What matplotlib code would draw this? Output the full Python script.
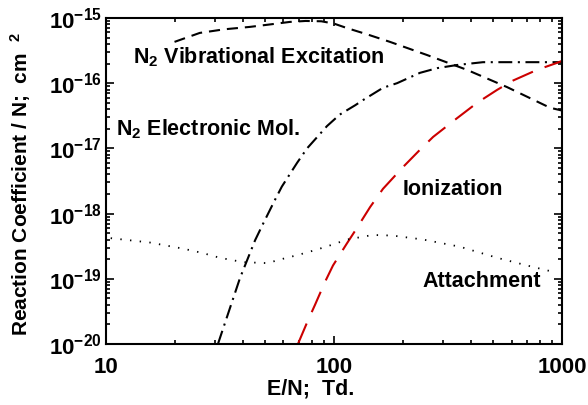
import numpy as np
import matplotlib
matplotlib.use('Agg')
import matplotlib.pyplot as plt
from matplotlib.ticker import LogLocator, NullFormatter

plt.rcParams['font.family'] = ['Liberation Sans', 'DejaVu Sans']
plt.rcParams['font.weight'] = 'bold'
plt.rcParams['mathtext.fontset'] = 'custom'
plt.rcParams['mathtext.rm'] = 'Liberation Sans:bold'
plt.rcParams['mathtext.it'] = 'Liberation Sans:bold'
plt.rcParams['mathtext.bf'] = 'Liberation Sans:bold'
plt.rcParams['mathtext.default'] = 'rm'
plt.rcParams['lines.scale_dashes'] = False

# values (E/N in Td, coefficient in cm^2)
vib_en = [20, 25.8, 33, 42.8, 53, 64, 75, 88, 100, 114, 140, 176, 256, 383, 574, 885, 1000]
vib_k = [4.3e-16, 5.9e-16, 6.7e-16, 7.3e-16, 8.0e-16, 8.7e-16, 9.0e-16, 8.9e-16, 8.2e-16,
         7.0e-16, 5.6e-16, 4.3e-16, 2.7e-16, 1.6e-16, 8.7e-17, 4.2e-17, 3.8e-17]

elec_en = [31, 38.7, 45.1, 48.9, 55.1, 59.1, 68.9, 76.2, 93.2, 106, 124, 134, 164, 189,
           238, 283, 346, 450, 600, 1000]
elec_k = [1.0e-20, 1.02e-19, 3.9e-19, 7.0e-19, 1.62e-18, 2.6e-18, 6.0e-18, 1.0e-17, 2.2e-17,
          3.3e-17, 4.6e-17, 5.5e-17, 8.5e-17, 1.0e-16, 1.44e-16, 1.7e-16, 1.9e-16, 2.1e-16,
          2.1e-16, 2.1e-16]

ion_en = [69.5, 76.9, 82.6, 91.4, 99, 114, 126, 144, 164, 201, 238, 272, 346, 424, 519,
          610, 776, 950, 1000]
ion_k = [1.0e-20, 2.3e-20, 4.0e-20, 9.0e-20, 1.6e-19, 3.5e-19, 6.0e-19, 1.26e-18, 2.4e-18,
         5.2e-18, 9.5e-18, 1.5e-17, 2.9e-17, 5.0e-17, 7.9e-17, 1.1e-16, 1.6e-16, 2.05e-16,
         2.2e-16]

att_en = [10.5, 15.6, 21.8, 26.4, 31.6, 40, 51, 62, 69, 84, 100, 114, 148, 181, 246, 357,
          519, 702, 930]
att_k = [4.2e-19, 3.6e-19, 2.9e-19, 2.5e-19, 2.1e-19, 1.8e-19, 1.74e-19, 2.1e-19, 2.3e-19,
         2.8e-19, 3.4e-19, 4.0e-19, 4.7e-19, 4.6e-19, 4.0e-19, 3.1e-19, 2.1e-19, 1.6e-19,
         1.26e-19]

fig = plt.figure(figsize=(5.88, 4.05), dpi=100)
ax = fig.add_axes([0.180, 0.1506, 0.776, 0.805])

ax.plot(vib_en, vib_k, color='black', lw=1.5, dashes=(8, 5))
ax.plot(elec_en, elec_k, color='black', lw=1.5, dashes=(10, 4, 1.5, 4))
ax.plot(ion_en, ion_k, color='#cc0000', lw=1.5, dashes=(16, 9))
ax.plot(att_en, att_k, color='black', lw=1.3, dashes=(1, 6))

ax.set_xscale('log')
ax.set_yscale('log')
ax.set_xlim(10, 1000)
ax.set_ylim(1e-20, 1e-15)

ax.set_xticks([10, 100, 1000])
ax.set_xticklabels(['10', '100', '1000'])
ax.set_yticks([1e-20, 1e-19, 1e-18, 1e-17, 1e-16, 1e-15])
ax.set_yticklabels([r'$10^{-20}$', r'$10^{-19}$', r'$10^{-18}$',
                    r'$10^{-17}$', r'$10^{-16}$', r'$10^{-15}$'])
ax.xaxis.set_minor_locator(LogLocator(base=10, subs=np.arange(2, 10), numticks=20))
ax.yaxis.set_minor_locator(LogLocator(base=10, subs=np.arange(2, 10), numticks=20))
ax.xaxis.set_minor_formatter(NullFormatter())
ax.yaxis.set_minor_formatter(NullFormatter())
ax.tick_params(which='both', direction='in', top=True, right=True, width=1.2)
ax.tick_params(which='major', length=6, labelsize=16)
ax.tick_params(axis='y', which='major', pad=3)
ax.tick_params(axis='x', which='major', pad=9)
ax.tick_params(which='minor', length=3)
for s in ax.spines.values():
    s.set_linewidth(1.5)

ax.set_xlabel('E/N;  Td.', fontsize=15.5, fontweight='bold')
ax.xaxis.set_label_coords(0.45, -0.107)
ax.set_ylabel(r'Reaction Coefficient / N;  cm  $^{2}$', fontsize=15, fontweight='bold')
ax.yaxis.set_label_coords(-0.16, 0.49)

ax.text(0.059, 0.862, r'N$_2$ Vibrational Excitation', transform=ax.transAxes, fontsize=15.5, va='baseline')
ax.text(0.022, 0.641, r'N$_2$ Electronic Mol.', transform=ax.transAxes, fontsize=15.5, va='baseline')
ax.text(0.651, 0.457, 'Ionization', transform=ax.transAxes, fontsize=15.5, va='baseline')
ax.text(0.695, 0.175, 'Attachment', transform=ax.transAxes, fontsize=15.5, va='baseline')

fig.savefig('out.png', dpi=100)
